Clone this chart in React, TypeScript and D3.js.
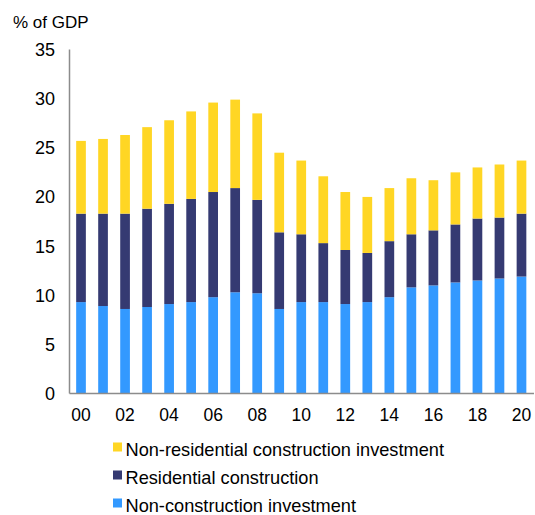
import React, { useEffect, useRef } from 'react';
import * as d3 from 'd3';

const years = ['00', '01', '02', '03', '04', '05', '06', '07', '08', '09', '10',
  '11', '12', '13', '14', '15', '16', '17', '18', '19', '20'];
const tickYears = ['00', '02', '04', '06', '08', '10', '12', '14', '16', '18', '20'];
const yTicks = [0, 5, 10, 15, 20, 25, 30, 35];

// stacked segments, bottom to top
const nonConstruction = [9.3, 8.9, 8.6, 8.8, 9.1, 9.3, 9.8, 10.3, 10.2, 8.6, 9.3,
  9.3, 9.1, 9.3, 9.8, 10.8, 11.0, 11.3, 11.5, 11.7, 11.9];
const residential = [9.0, 9.4, 9.7, 10.0, 10.2, 10.5, 10.7, 10.6, 9.5, 7.8, 6.9,
  6.0, 5.5, 5.0, 5.7, 5.4, 5.6, 5.9, 6.3, 6.2, 6.4];
const nonResidential = [7.4, 7.6, 8.0, 8.3, 8.5, 8.9, 9.1, 9.0, 8.8, 8.1, 7.5,
  6.8, 5.9, 5.7, 5.4, 5.7, 5.1, 5.3, 5.2, 5.4, 5.4];

const seriesKeys = ['nonCon', 'res', 'nonRes'];
const seriesColors = ['#3399ff', '#353a72', '#ffd624'];
const legendLabels = [
  { key: 'nonRes', label: 'Non-residential construction investment' },
  { key: 'res', label: 'Residential construction' },
  { key: 'nonCon', label: 'Non-construction investment' },
];

const App: React.FC = () => {
  const svgRef = useRef<SVGSVGElement>(null);

  useEffect(() => {
    if (!svgRef.current) return;
    const width = 535;
    const height = 515;
    const left = 69.5;
    const right = 533;
    const top = 49.5;
    const bottom = 393.5;

    const svg = d3.select(svgRef.current)
      .attr('width', width)
      .attr('height', height)
      .html('');

    const rows = years.map((y, i) => ({
      year: y,
      nonCon: nonConstruction[i],
      res: residential[i],
      nonRes: nonResidential[i],
    }));

    const x = d3.scaleBand<string>()
      .domain(years)
      .range([left + 0.5, right - 0.5])
      .paddingInner(0.56)
      .paddingOuter(0.28);

    const y = d3.scaleLinear().domain([0, 35]).range([bottom, top]);

    const stack = d3.stack<any>().keys(seriesKeys);
    const layers = stack(rows);

    const font = 'Liberation Sans, Arial, sans-serif';

    svg.selectAll('g.layer')
      .data(layers)
      .join('g')
      .attr('class', 'layer')
      .attr('fill', (_d, i) => seriesColors[i])
      .selectAll('rect')
      .data((d) => d)
      .join('rect')
      .attr('x', (d: any) => x(d.data.year)!)
      .attr('width', x.bandwidth())
      .attr('y', (d) => y(d[1]))
      .attr('height', (d) => y(d[0]) - y(d[1]));

    // axes
    svg.append('line')
      .attr('x1', left).attr('x2', left)
      .attr('y1', top).attr('y2', bottom)
      .attr('stroke', '#8c8c8c').attr('stroke-width', 1.5);
    svg.append('line')
      .attr('x1', left).attr('x2', 534)
      .attr('y1', bottom).attr('y2', bottom)
      .attr('stroke', '#8c8c8c').attr('stroke-width', 1.5);

    svg.selectAll('text.ytick')
      .data(yTicks)
      .join('text')
      .attr('class', 'ytick')
      .attr('x', 55)
      .attr('y', (d) => y(d))
      .attr('dy', '0.36em')
      .attr('text-anchor', 'end')
      .attr('font-family', font)
      .attr('font-size', 18)
      .attr('fill', '#000')
      .text((d) => d);

    svg.selectAll('text.xtick')
      .data(tickYears)
      .join('text')
      .attr('class', 'xtick')
      .attr('x', (d) => x(d)! + x.bandwidth() / 2)
      .attr('y', 421)
      .attr('text-anchor', 'middle')
      .attr('font-family', font)
      .attr('font-size', 17.5)
      .attr('fill', '#000')
      .text((d) => d);

    svg.append('text')
      .attr('x', 13)
      .attr('y', 28)
      .attr('font-family', font)
      .attr('font-size', 17)
      .attr('fill', '#000')
      .text('% of GDP');

    const legend = svg.append('g');
    legendLabels.forEach((l, i) => {
      const by = 455.5 + i * 28;
      const color = seriesColors[seriesKeys.indexOf(l.key)];
      legend.append('rect')
        .attr('x', 113).attr('y', by - 13)
        .attr('width', 9).attr('height', 9)
        .attr('fill', color);
      legend.append('text')
        .attr('x', 125.5)
        .attr('y', by)
        .attr('font-family', font)
        .attr('font-size', 18.2)
        .attr('fill', '#000')
        .text(l.label);
    });
  }, []);

  return (
    <div style={{ position: 'absolute', left: 0, top: 0 }}>
      <svg ref={svgRef} style={{ display: 'block' }}></svg>
    </div>
  );
};

export default App;
